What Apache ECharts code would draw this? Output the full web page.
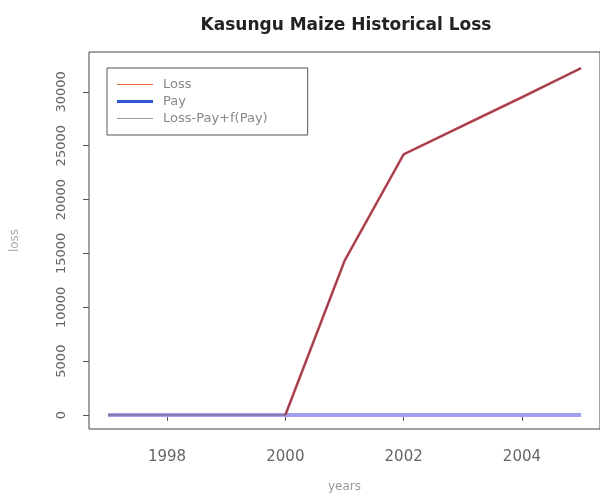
<!DOCTYPE html>
<html>
<head>
<meta charset="utf-8">
<script src="https://cdn.jsdelivr.net/npm/echarts@6/dist/echarts.min.js"></script>
<style>
  html, body { margin: 0; padding: 0; background: #fff; }
  #main { width: 600px; height: 498px; }
</style>
</head>
<body>
<div id="main"></div>
<script>
    // values
    var years = [1997, 1998, 1999, 2000, 2001, 2002, 2003, 2004, 2005];
    var loss = [null, null, null, 0, 14300, 24200, 26850, 29500, 32200];
    var pay = [0, 0, 0, 0, 0, 0, 0, 0, 0];
    var lossAdj = [0, 0, 0, 0, 14300, 24200, 26850, 29500, 32200];
    var xTicks = [1998, 2000, 2002, 2004];
    var yTicks = [0, 5000, 10000, 15000, 20000, 25000, 30000];

    function pairs(xs, ys) {
        var out = [];
        for (var i = 0; i < xs.length; i++) {
            out.push([xs[i], ys[i]]);
        }
        return out;
    }

    var dom = document.getElementById("main");
    var myChart = echarts.init(dom);

    var labelColor = '#666';
    var font = 'DejaVu Sans, Verdana, sans-serif';

    var option = {
        animation: false,
        backgroundColor: '#fff',
        title: {
            text: 'Kasungu Maize Historical Loss',
            left: 341,
            top: 12,
            textAlign: 'center',
            textStyle: { fontFamily: font, fontSize: 17, fontWeight: 'bold', color: '#222' }
        },
        legend: {
            orient: 'vertical',
            left: 107,
            top: 68,
            padding: [10, 40, 10, 10],
            itemGap: 4,
            itemWidth: 36,
            itemHeight: 14,
            borderColor: '#555',
            borderWidth: 1,
            backgroundColor: '#fff',
            textStyle: { fontFamily: font, fontSize: 13, color: '#888', padding: [0, 0, 0, 5] },
            data: [
                { name: 'Loss', icon: 'path://M0,6.5L36,6.5L36,7.5L0,7.5Z', itemStyle: { color: '#e0602e' } },
                { name: 'Pay', icon: 'path://M0,5.5L36,5.5L36,8.5L0,8.5Z', itemStyle: { color: '#2f56d8' } },
                { name: 'Loss-Pay+f(Pay)', icon: 'path://M0,6.5L36,6.5L36,7.5L0,7.5Z', itemStyle: { color: '#999999' } }
            ]
        },
        grid: {
            left: 89,
            top: 52,
            width: 516,
            height: 380,
            show: true,
            borderColor: '#444',
            borderWidth: 1,
            backgroundColor: 'transparent'
        },
        xAxis: {
            type: 'value',
            min: 1996.68,
            max: 2005.32,
            name: 'years',
            nameLocation: 'middle',
            nameGap: 52,
            nameTextStyle: { fontFamily: font, fontSize: 12, color: '#999' },
            axisLine: { show: false },
            axisTick: { show: true, inside: false, length: 6, lineStyle: { color: '#555' }, customValues: xTicks },
            axisLabel: { fontFamily: font, fontSize: 15, color: labelColor, margin: 21, customValues: xTicks,
                formatter: function (v) { return String(v); } },
            splitLine: { show: false }
        },
        yAxis: {
            type: 'value',
            min: -1300,
            max: 33700,
            name: 'loss',
            nameLocation: 'middle',
            nameGap: 68,
            nameRotate: 90,
            nameTextStyle: { fontFamily: font, fontSize: 12, color: '#aaa' },
            axisLine: { show: false },
            axisTick: { show: true, inside: false, length: 6, lineStyle: { color: '#555' }, customValues: yTicks },
            axisLabel: { fontFamily: font, fontSize: 13, color: labelColor, rotate: 90, margin: 21, customValues: yTicks,
                formatter: function (v) { return String(v); } },
            splitLine: { show: false }
        },
        series: [
            {
                name: 'Pay',
                type: 'line',
                symbol: 'none',
                z: 2,
                data: pairs(years, pay),
                lineStyle: { color: '#a0a0f0', width: 4 },
                itemStyle: { color: '#2f56d8' }
            },
            {
                name: 'Loss',
                type: 'line',
                symbol: 'none',
                z: 3,
                data: pairs(years, loss),
                lineStyle: { color: '#d84a55', width: 2.6 },
                itemStyle: { color: '#e0602e' }
            },
            {
                name: 'Loss-Pay+f(Pay)',
                type: 'line',
                symbol: 'none',
                z: 4,
                data: pairs(years, lossAdj),
                lineStyle: { color: '#6b4450', width: 1.2, opacity: 0.8 },
                itemStyle: { color: '#999999' }
            }
        ]
    };

    myChart.setOption(option, true);
</script>
</body>
</html>
